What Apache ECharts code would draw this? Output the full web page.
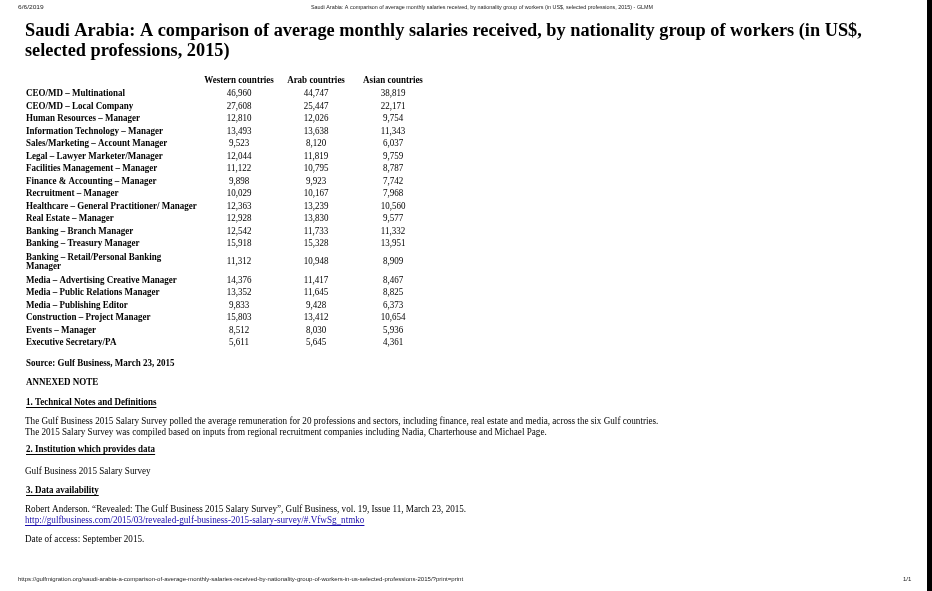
<!DOCTYPE html>
<html>
<head>
<meta charset="utf-8">
<script src="https://cdn.jsdelivr.net/npm/echarts@6/dist/echarts.min.js"></script>
<style>
html,body{margin:0;padding:0;background:#fff;}
#chart{width:932px;height:591px;}
</style>
</head>
<body>
<div id="chart"></div>
<script>
// table data
const columns = ['Western countries', 'Arab countries', 'Asian countries'];
const professions = [
    'CEO/MD – Multinational',
    'CEO/MD – Local Company',
    'Human Resources – Manager',
    'Information Technology – Manager',
    'Sales/Marketing – Account Manager',
    'Legal – Lawyer Marketer/Manager',
    'Facilities Management – Manager',
    'Finance & Accounting – Manager',
    'Recruitment – Manager',
    'Healthcare – General Practitioner/ Manager',
    'Real Estate – Manager',
    'Banking – Branch Manager',
    'Banking – Treasury Manager',
    'Banking – Retail/Personal Banking\nManager',
    'Media – Advertising Creative Manager',
    'Media – Public Relations Manager',
    'Media – Publishing Editor',
    'Construction – Project Manager',
    'Events – Manager',
    'Executive Secretary/PA'
];
const western = [46960, 27608, 12810, 13493, 9523, 12044, 11122, 9898, 10029, 12363, 12928, 12542, 15918, 11312, 14376, 13352, 9833, 15803, 8512, 5611];
const arab    = [44747, 25447, 12026, 13638, 8120, 11819, 10795, 9923, 10167, 13239, 13830, 11733, 15328, 10948, 11417, 11645, 9428, 13412, 8030, 5645];
const asian   = [38819, 22171, 9754, 11343, 6037, 9759, 8787, 7742, 7968, 10560, 9577, 11332, 13951, 8909, 8467, 8825, 6373, 10654, 5936, 4361];

const pageTitle = 'Saudi Arabia: A comparison of average monthly salaries received, by nationality group of workers (in US$, selected professions, 2015) - GLMM';
const pageDate = '6/6/2019';
const pageUrl = 'https://gulfmigration.org/saudi-arabia-a-comparison-of-average-monthly-salaries-received-by-nationality-group-of-workers-in-us-selected-professions-2015/?print=print';
const titleLines = ['Saudi Arabia: A comparison of average monthly salaries received, by nationality group of workers (in US$,', 'selected professions, 2015)'];
const source = 'Source: Gulf Business, March 23, 2015';
const notes1 = ['The Gulf Business 2015 Salary Survey polled the average remuneration for 20 professions and sectors, including finance, real estate and media, across the six Gulf countries.',
    'The 2015 Salary Survey was compiled based on inputs from regional recruitment companies including Nadia, Charterhouse and Michael Page.'];
const notes2 = 'Gulf Business 2015 Salary Survey';
const notes3 = 'Robert Anderson. “Revealed: The Gulf Business 2015 Salary Survey”, Gulf Business, vol. 19, Issue 11, March 23, 2015.';
const link = 'http://gulfbusiness.com/2015/03/revealed-gulf-business-2015-salary-survey/#.VfwSg_ntmko';
const accessed = 'Date of access: September 2015.';

const SERIF = '"Liberation Serif", "Times New Roman", serif';
const SANS = '"Liberation Sans", Arial, sans-serif';
const SX = 0.9;   // print is a bit condensed
const SXN = 0.912; // notes

// row positions: wrapped rows take more room
const rowH = professions.map(p => 1 + 0.9 * (p.split('\n').length - 1));
const rowPos = [];
rowH.forEach((h, i) => {
    rowPos.push(i === 0 ? 0 : rowPos[i - 1] + (rowH[i - 1] + h) / 2);
});
const yMax = rowPos[rowPos.length - 1] + 0.5;

const cells = [];
[western, arab, asian].forEach((arr, c) => {
    arr.forEach((v, i) => cells.push([c, rowPos[i], v]));
});
const labelData = professions.map((p, i) => [0, rowPos[i], i]);
const headData = columns.map((c, i) => [i, -1.04]);

const ctx = document.createElement('canvas').getContext('2d');
function textWidth(str, font) {
    ctx.font = font;
    return ctx.measureText(str).width;
}

function txt(x, y, str, font, opt) {
    opt = opt || {};
    return {
        type: 'text', x: x, y: y, scaleX: opt.sx || 1, silent: true,
        style: {
            text: str, x: 0, y: 0, font: font, fill: opt.color || '#000',
            textAlign: opt.align || 'left', align: opt.align || 'left',
            textVerticalAlign: 'middle', verticalAlign: 'middle'
        }
    };
}
function underlined(x, y, str, font, sx, color) {
    const w = textWidth(str, font) * sx;
    return [txt(x, y, str, font, {sx: sx, color: color}), {
        type: 'line', silent: true,
        shape: {x1: x, y1: y + 5.5, x2: x + w, y2: y + 5.5},
        style: {stroke: color || '#000', lineWidth: 1}
    }];
}

const fBody = '10px ' + SERIF;
const fBold = 'bold 10px ' + SERIF;
const fNote = '10px ' + SERIF;
const fTiny = '6px ' + SANS;

const graphics = [
    {type: 'rect', shape: {x: 927, y: 0, width: 5, height: 591}, style: {fill: '#000'}, silent: true},
    txt(18, 7, pageDate, fTiny, {color: '#222', sx: 1.1}),
    txt(482, 7, pageTitle, fTiny, {align: 'center', sx: 0.9, color: '#222'}),
    txt(18, 579, pageUrl, fTiny, {sx: 1.01, color: '#222'}),
    txt(903, 579, '1/1', fTiny, {color: '#222'}),
    txt(25, 31.5, titleLines[0], 'bold 18px ' + SERIF, {sx: 1.017}),
    txt(25, 51.5, titleLines[1], 'bold 18px ' + SERIF, {sx: 1.017}),
    txt(26, 363, source, fBold, {sx: SX}),
    txt(26, 382, 'ANNEXED NOTE', fBold, {sx: SX}),
    ...underlined(26, 402, '1. Technical Notes and Definitions', fBold, SX),
    txt(25, 421, notes1[0], fNote, {sx: SXN}),
    txt(25, 432, notes1[1], fNote, {sx: SXN}),
    ...underlined(26, 449, '2. Institution which provides data', fBold, SX),
    txt(25, 471, notes2, fNote, {sx: SXN}),
    ...underlined(26, 490, '3. Data availability', fBold, SX),
    txt(25, 509, notes3, fNote, {sx: SXN}),
    ...underlined(25, 520, link, fNote, SXN, '#1a0dab'),
    txt(25, 539, accessed, fNote, {sx: SXN})
];

const chart = echarts.init(document.getElementById('chart'));
chart.setOption({
    backgroundColor: '#fff',
    animation: false,
    grid: {left: 200.5, width: 231, top: 87.45, height: (yMax + 0.5) * 12.5},
    xAxis: {type: 'category', data: columns, show: false},
    yAxis: {type: 'value', min: -0.5, max: yMax, inverse: true, show: false},
    graphic: graphics,
    series: [
        {
            type: 'custom', name: 'values', data: cells, clip: false,
            renderItem: function (params, api) {
                const p = api.coord([api.value(0), api.value(1)]);
                return txt(p[0], p[1], api.value(2).toLocaleString('en-US'), fBody, {align: 'center', sx: SX});
            }
        },
        {
            type: 'custom', name: 'headers', data: headData, clip: false,
            renderItem: function (params, api) {
                const p = api.coord([api.value(0), api.value(1)]);
                return txt(p[0], p[1], columns[params.dataIndex], fBold, {align: 'center', sx: SX});
            }
        },
        {
            type: 'custom', name: 'labels', data: labelData, clip: false,
            renderItem: function (params, api) {
                const p = api.coord([0, api.value(1)]);
                const el = txt(26, p[1], professions[api.value(2)], fBold, {sx: SX});
                el.style.lineHeight = 9;
                return el;
            }
        }
    ]
});
</script>
</body>
</html>
